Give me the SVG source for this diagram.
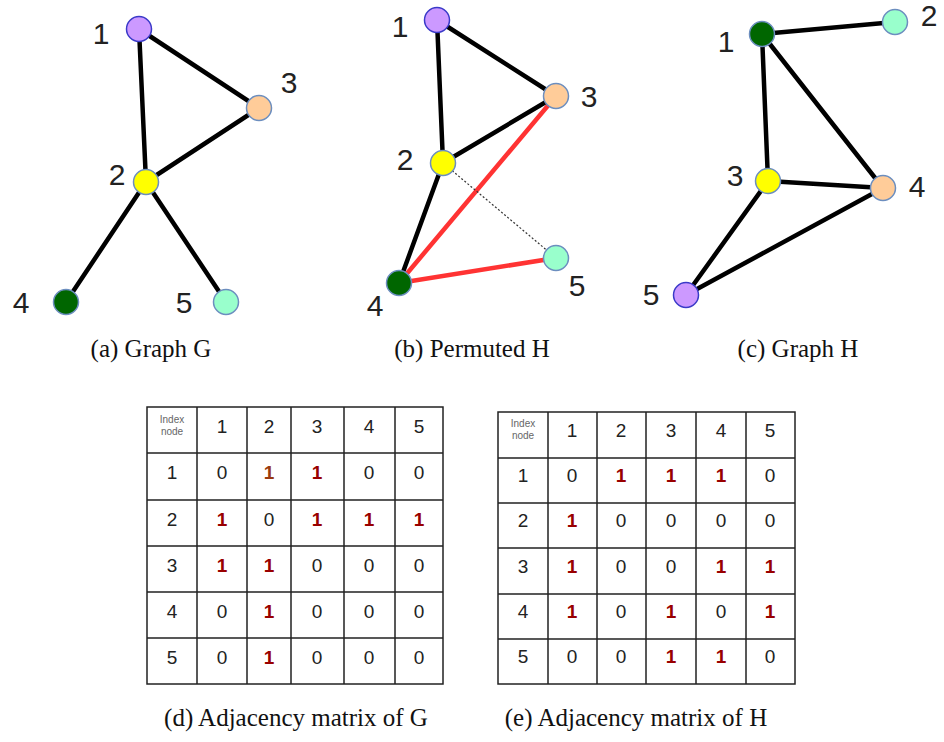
<svg xmlns="http://www.w3.org/2000/svg" width="944" height="742" viewBox="0 0 944 742">
<style>
.e{stroke:#000;stroke-width:4.5;stroke-linecap:round;fill:none}
.r{stroke:#ff3333;stroke-width:4.5;stroke-linecap:round;fill:none}
.d{stroke:#333;stroke-width:1.2;stroke-dasharray:2 2;fill:none}
.n{stroke:#6c8ebf;stroke-width:1.5}
.pu{fill:#cc99ff;stroke:#3a3ac8}
.pe{fill:#ffcc99}
.ye{fill:#ffff00}
.gr{fill:#006600}
.aq{fill:#99ffcc}
.lb{font-family:"Liberation Sans",Arial,sans-serif;font-size:30px;fill:#222;text-anchor:middle}
.cap{font-family:"Liberation Serif","Times New Roman",serif;font-size:25px;fill:#111;text-anchor:middle}
.grid{stroke:#222;stroke-width:1.5;fill:none}
.c{font-family:"Liberation Sans",Arial,sans-serif;font-size:19px;fill:#222;text-anchor:middle}
.one{font-family:"Liberation Sans",Arial,sans-serif;font-size:19px;fill:#990000;font-weight:bold;text-anchor:middle}
.ix{font-family:"Liberation Sans",Arial,sans-serif;font-size:10px;fill:#666;text-anchor:middle}
</style>
<rect width="944" height="742" fill="#fff"/>

<!-- Graph G -->
<g id="edges-G">
<line class="e" x1="139" y1="29" x2="146" y2="182"/>
<line class="e" x1="139" y1="29" x2="259" y2="108"/>
<line class="e" x1="259" y1="108" x2="146" y2="182"/>
<line class="e" x1="146" y1="182" x2="66" y2="302"/>
<line class="e" x1="146" y1="182" x2="226" y2="302"/>
</g>
<g id="G1"><circle class="n pu" cx="139" cy="29" r="12.5"/><text class="lb" x="101" y="44">1</text></g>
<g id="G3"><circle class="n pe" cx="259" cy="108" r="12.5"/><text class="lb" x="289" y="93">3</text></g>
<g id="G2"><circle class="n ye" cx="146" cy="182" r="12.5"/><text class="lb" x="117" y="185">2</text></g>
<g id="G4"><circle class="n gr" cx="66" cy="302" r="12.5"/><text class="lb" x="21" y="313">4</text></g>
<g id="G5"><circle class="n aq" cx="226" cy="302" r="12.5"/><text class="lb" x="184" y="313">5</text></g>

<!-- Permuted H -->
<g id="edges-P">
<line class="e" x1="437" y1="20" x2="443" y2="163"/>
<line class="e" x1="437" y1="20" x2="556" y2="96"/>
<line class="e" x1="556" y1="96" x2="443" y2="163"/>
<line class="e" x1="443" y1="163" x2="399" y2="283"/>
<line class="r" x1="556" y1="96" x2="399" y2="283"/>
<line class="r" x1="399" y1="283" x2="556" y2="258"/>
<line class="d" x1="443" y1="163" x2="556" y2="258"/>
</g>
<g id="P1"><circle class="n pu" cx="437" cy="20" r="12.5"/><text class="lb" x="400" y="37">1</text></g>
<g id="P3"><circle class="n pe" cx="556" cy="96" r="12.5"/><text class="lb" x="589" y="107">3</text></g>
<g id="P2"><circle class="n ye" cx="443" cy="163" r="12.5"/><text class="lb" x="405" y="170">2</text></g>
<g id="P5"><circle class="n aq" cx="556" cy="258" r="12.5"/><text class="lb" x="577" y="296">5</text></g>
<g id="P4"><circle class="n gr" cx="399" cy="283" r="12.5"/><text class="lb" x="375" y="316">4</text></g>

<!-- Graph H -->
<g id="edges-H">
<line class="e" x1="762" y1="34" x2="895" y2="22"/>
<line class="e" x1="762" y1="34" x2="768" y2="181"/>
<line class="e" x1="762" y1="34" x2="883" y2="188"/>
<line class="e" x1="768" y1="181" x2="883" y2="188"/>
<line class="e" x1="768" y1="181" x2="686" y2="295"/>
<line class="e" x1="883" y1="188" x2="686" y2="295"/>
</g>
<g id="H1"><circle class="n gr" cx="762" cy="34" r="12.5"/><text class="lb" x="726" y="52">1</text></g>
<g id="H2"><circle class="n aq" cx="895" cy="22" r="12.5"/><text class="lb" x="929" y="26">2</text></g>
<g id="H3"><circle class="n ye" cx="768" cy="181" r="12.5"/><text class="lb" x="735" y="186">3</text></g>
<g id="H4"><circle class="n pe" cx="883" cy="188" r="12.5"/><text class="lb" x="917" y="197">4</text></g>
<g id="H5"><circle class="n pu" cx="686" cy="295" r="12.5"/><text class="lb" x="651" y="305">5</text></g>

<!-- Captions -->
<text class="cap" x="151" y="357">(a) Graph G</text>
<text class="cap" x="472" y="357">(b) Permuted H</text>
<text class="cap" x="798" y="357">(c) Graph H</text>
<text class="cap" x="296" y="726">(d) Adjacency matrix of G</text>
<text class="cap" x="636" y="726">(e) Adjacency matrix of H</text>

<!-- Matrix G -->
<g id="matrix-G">
<rect class="grid" x="147" y="407" width="296" height="277"/>
<path class="grid" d="M197 407V684M247 407V684M291 407V684M344 407V684M395 407V684M147 453H443M147 500H443M147 546H443M147 592H443M147 638H443"/>
<text class="ix" x="172" y="423">Index</text><text class="ix" x="172" y="435">node</text>
<g>
<text class="c" x="222" y="433">1</text><text class="c" x="269" y="433">2</text><text class="c" x="317" y="433">3</text><text class="c" x="369" y="433">4</text><text class="c" x="419" y="433">5</text>
<text class="c" x="172" y="479">1</text><text class="c" x="172" y="526">2</text><text class="c" x="172" y="572">3</text><text class="c" x="172" y="618">4</text><text class="c" x="172" y="664">5</text>
</g>
<g>
<text class="c" x="222" y="479">0</text><text class="one" x="269" y="479" style="fill:#9a3a10">1</text><text class="one" x="317" y="479">1</text><text class="c" x="369" y="479">0</text><text class="c" x="419" y="479">0</text>
<text class="one" x="222" y="526">1</text><text class="c" x="269" y="526">0</text><text class="one" x="317" y="526">1</text><text class="one" x="369" y="526">1</text><text class="one" x="419" y="526">1</text>
<text class="one" x="222" y="572">1</text><text class="one" x="269" y="572">1</text><text class="c" x="317" y="572">0</text><text class="c" x="369" y="572">0</text><text class="c" x="419" y="572">0</text>
<text class="c" x="222" y="618">0</text><text class="one" x="269" y="618">1</text><text class="c" x="317" y="618">0</text><text class="c" x="369" y="618">0</text><text class="c" x="419" y="618">0</text>
<text class="c" x="222" y="664">0</text><text class="one" x="269" y="664">1</text><text class="c" x="317" y="664">0</text><text class="c" x="369" y="664">0</text><text class="c" x="419" y="664">0</text>
</g>
</g>

<!-- Matrix H -->
<g id="matrix-H">
<rect class="grid" x="498" y="412" width="297" height="272"/>
<path class="grid" d="M548 412V684M597 412V684M646 412V684M696 412V684M746 412V684M498 458H795M498 503H795M498 548H795M498 594H795M498 639H795"/>
<text class="ix" x="523" y="427">Index</text><text class="ix" x="523" y="439">node</text>
<g>
<text class="c" x="572" y="437">1</text><text class="c" x="621" y="437">2</text><text class="c" x="671" y="437">3</text><text class="c" x="721" y="437">4</text><text class="c" x="770" y="437">5</text>
<text class="c" x="523" y="482">1</text><text class="c" x="523" y="527">2</text><text class="c" x="523" y="573">3</text><text class="c" x="523" y="618">4</text><text class="c" x="523" y="663">5</text>
</g>
<g>
<text class="c" x="572" y="482">0</text><text class="one" x="621" y="482">1</text><text class="one" x="671" y="482">1</text><text class="one" x="721" y="482">1</text><text class="c" x="770" y="482">0</text>
<text class="one" x="572" y="527">1</text><text class="c" x="621" y="527">0</text><text class="c" x="671" y="527">0</text><text class="c" x="721" y="527">0</text><text class="c" x="770" y="527">0</text>
<text class="one" x="572" y="573">1</text><text class="c" x="621" y="573">0</text><text class="c" x="671" y="573">0</text><text class="one" x="721" y="573">1</text><text class="one" x="770" y="573">1</text>
<text class="one" x="572" y="618">1</text><text class="c" x="621" y="618">0</text><text class="one" x="671" y="618">1</text><text class="c" x="721" y="618">0</text><text class="one" x="770" y="618">1</text>
<text class="c" x="572" y="663">0</text><text class="c" x="621" y="663">0</text><text class="one" x="671" y="663">1</text><text class="one" x="721" y="663">1</text><text class="c" x="770" y="663">0</text>
</g>
</g>
</svg>
